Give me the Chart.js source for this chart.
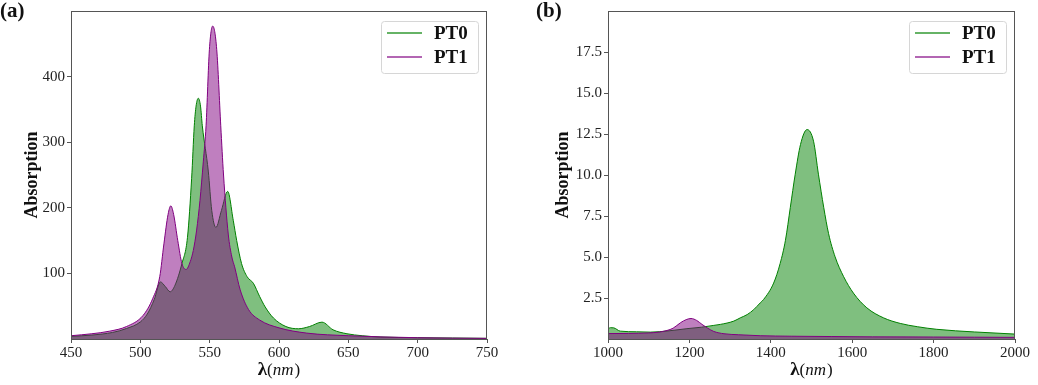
<!doctype html>
<html lang="en">
<head>
<meta charset="utf-8" />
<title>PT0 / PT1 absorption</title>
<script src="https://cdn.jsdelivr.net/npm/chart.js"></script>
<style>
  html, body { margin: 0; padding: 0; background: #fff; }
  body { width: 1038px; height: 385px; position: relative; overflow: hidden; }
  .panel { position: absolute; top: 0; height: 385px; }
  #wrapA { left: 0; width: 520px; }
  #wrapB { left: 520px; width: 518px; }
</style>
</head>
<body>
<div class="panel" id="wrapA"><canvas id="chartA" width="520" height="385"></canvas></div>
<div class="panel" id="wrapB"><canvas id="chartB" width="518" height="385"></canvas></div>
<script>
// panel (a): visible range
const pt0aX = [450, 465, 480, 490, 500, 505, 510, 514.5, 518, 521.5, 525, 530, 534, 537, 538.9, 540.2, 541.8, 543.4, 544.7, 549, 551.5, 554.5, 558.5, 563, 567, 569.5, 573, 577, 581.5, 586, 590, 596, 605, 614, 622, 631, 639, 649, 660, 673, 700, 725, 750];
const pt0aY = [4, 6, 10, 16, 26, 38, 60, 87, 80, 72, 82, 115, 155, 245, 325, 355, 367, 355, 325, 256, 196, 170, 196, 225, 181, 150, 115, 95, 85, 65, 49, 32, 19, 15.6, 19, 25.7, 14, 8, 5, 3, 2, 1.5, 1];
const pt1aX = [450, 465, 478, 490, 502, 509, 514, 517, 520, 522, 524, 527, 530, 533, 536, 538.2, 540.6, 543, 545.4, 547.4, 549.8, 552.2, 555.1, 558, 560, 563.4, 566, 568, 572, 578, 586, 600, 620, 650, 700, 750];
const pt1aY = [5, 8, 12, 19, 36, 62, 95, 145, 190, 203, 190, 150, 115, 106, 118, 135, 166, 211, 270, 325, 441, 477, 441, 325, 250, 160, 125, 110, 75, 45, 29, 17, 9, 5, 2, 1];

// panel (b): near infrared
const pt0bX = [1000, 1006, 1014, 1030, 1070, 1104, 1150, 1194, 1230, 1260, 1276, 1309, 1325, 1342, 1358, 1374, 1382, 1407, 1423, 1436, 1448, 1460, 1473, 1489, 1505, 1517, 1530, 1542, 1558, 1579, 1603, 1636, 1677, 1718, 1760, 1808, 1900, 2000];
const pt0bY = [0.62, 0.69, 0.68, 0.48, 0.44, 0.42, 0.5, 0.63, 0.72, 0.83, 0.89, 1.09, 1.29, 1.49, 1.79, 2.2, 2.4, 3.41, 4.61, 6.02, 8.03, 10.05, 11.86, 12.77, 12.06, 10.05, 8.03, 6.42, 5.01, 3.8, 2.8, 1.9, 1.29, 0.95, 0.75, 0.59, 0.43, 0.3];
const pt1bX = [1000, 1050, 1100, 1125, 1145, 1160, 1178, 1192, 1204, 1218, 1231, 1245, 1260, 1285, 1320, 1374, 1450, 1550, 1650, 1800, 1900, 2000];
const pt1bY = [0.33, 0.34, 0.37, 0.42, 0.52, 0.66, 0.99, 1.18, 1.25, 1.13, 0.89, 0.66, 0.46, 0.32, 0.26, 0.2, 0.17, 0.15, 0.13, 0.12, 0.11, 0.1];

const seriesNames = ["PT0", "PT1"];
const ticksAY = [100, 200, 300, 400];
const ticksBY = [2.5, 5.0, 7.5, 10.0, 12.5, 15.0, 17.5];

const SERIF = '"Liberation Serif", "DejaVu Serif", serif';
const INK = "#222";
const FRAME = "#555";

function pts(xs, ys) {
  return xs.map((x, i) => ({ x, y: ys[i] }));
}

function series(label, xs, ys, line, fill, order) {
  return {
    label,
    data: pts(xs, ys),
    borderColor: line,
    backgroundColor: fill,
    borderWidth: 1,
    pointRadius: 0,
    fill: "origin",
    cubicInterpolationMode: "monotone",
    order,
  };
}

// frame, panel letter, axis titles and an in-axes legend
const decor = {
  id: "decor",
  afterDraw(chart, args, opts) {
    const { ctx, chartArea: a } = chart;
    ctx.save();
    ctx.strokeStyle = FRAME;
    ctx.lineWidth = 1;
    ctx.strokeRect(Math.round(a.left) + 0.5, Math.round(a.top) + 0.5,
      Math.round(a.right - a.left) - 1, Math.round(a.bottom - a.top));

    ctx.fillStyle = "#111";
    ctx.font = "bold 21px " + SERIF;
    ctx.textAlign = "left";
    ctx.textBaseline = "alphabetic";
    ctx.fillText(opts.letter, opts.letterX, 17);

    // y title
    ctx.save();
    ctx.translate(opts.yTitleX, (a.top + a.bottom) / 2);
    ctx.rotate(-Math.PI / 2);
    ctx.textAlign = "center";
    ctx.textBaseline = "middle";
    ctx.font = "bold 18px " + SERIF;
    ctx.fillText("Absorption", 0, 0);
    ctx.restore();

    // x title: bold lambda, italic nm
    const parts = [
      ["λ", "bold 19px " + SERIF],
      ["(", "17px " + SERIF],
      ["nm", "italic 17px " + SERIF],
      [")", "17px " + SERIF],
    ];
    let w = 0;
    parts.forEach(([t, f]) => { ctx.font = f; w += ctx.measureText(t).width + (t === "nm" ? 1 : 0); });
    let x = (a.left + a.right) / 2 - w / 2;
    ctx.textAlign = "left";
    parts.forEach(([t, f]) => {
      ctx.font = f;
      ctx.fillText(t, x, 375);
      x += ctx.measureText(t).width + (t === "nm" ? 1 : 0);
    });

    // legend box
    const bw = 97, bh = 52;
    const bx = a.right - 9 - bw, by = a.top + 10;
    ctx.beginPath();
    ctx.roundRect(bx + 0.5, by + 0.5, bw, bh, 3);
    ctx.fillStyle = "rgba(255,255,255,0.85)";
    ctx.fill();
    ctx.strokeStyle = "#d6d6d6";
    ctx.stroke();
    const legendColors = ["rgba(0,128,0,0.6)", "rgba(128,0,128,0.6)"];
    seriesNames.forEach((name, i) => {
      const cy = by + 12 + i * 24;
      ctx.strokeStyle = legendColors[i];
      ctx.lineWidth = 2;
      ctx.beginPath();
      ctx.moveTo(bx + 6, cy);
      ctx.lineTo(bx + 41, cy);
      ctx.stroke();
      ctx.fillStyle = "#111";
      ctx.font = "bold 19px " + SERIF;
      ctx.textBaseline = "middle";
      ctx.fillText(name, bx + 53, cy + 1);
    });
    ctx.restore();
  },
};

function makeChart(id, cfg) {
  return new Chart(document.getElementById(id), {
    type: "line",
    data: {
      datasets: [
        series(seriesNames[0], cfg.x0, cfg.y0, "#008000", "rgba(0,128,0,0.5)", 2),
        series(seriesNames[1], cfg.x1, cfg.y1, "#800080", "rgba(128,0,128,0.5)", 1),
      ],
    },
    options: {
      responsive: false,
      devicePixelRatio: 1,
      animation: false,
      layout: { padding: { left: 0, right: cfg.padRight, top: 9, bottom: 0 } },
      plugins: {
        legend: { display: false },
        tooltip: { enabled: false },
        decor: { letter: cfg.letter, letterX: cfg.letterX, yTitleX: cfg.yTitleX },
      },
      scales: {
        x: {
          type: "linear",
          min: cfg.xMin,
          max: cfg.xMax,
          border: { display: false },
          grid: { display: true, drawOnChartArea: false, drawTicks: true, tickLength: 4, color: FRAME },
          ticks: {
            stepSize: cfg.xStep,
            padding: 1,
            color: INK,
            font: { family: SERIF, size: 15 },
            callback: (v) => String(v),
          },
          afterFit: (s) => { s.height = 46; },
        },
        y: {
          min: 0,
          max: cfg.yMax,
          border: { display: false },
          grid: { display: true, drawOnChartArea: false, drawTicks: true, tickLength: 4, color: FRAME },
          ticks: {
            padding: 2,
            color: INK,
            font: { family: SERIF, size: 15 },
            callback: (v) => cfg.fmt(v),
          },
          afterBuildTicks: (s) => { s.ticks = cfg.yTicks.map((v) => ({ value: v })); },
          afterFit: (s) => { s.width = cfg.yWidth; },
        },
      },
    },
    plugins: [decor],
  });
}

makeChart("chartA", {
  x0: pt0aX, y0: pt0aY, x1: pt1aX, y1: pt1aY,
  xMin: 450, xMax: 750, xStep: 50, yMax: 500, yTicks: ticksAY,
  fmt: (v) => String(v), yWidth: 71, padRight: 33,
  letter: "(a)", letterX: 0, yTitleX: 32,
});

makeChart("chartB", {
  x0: pt0bX, y0: pt0bY, x1: pt1bX, y1: pt1bY,
  xMin: 1000, xMax: 2000, xStep: 200, yMax: 20, yTicks: ticksBY,
  fmt: (v) => v.toFixed(1), yWidth: 88, padRight: 23,
  letter: "(b)", letterX: 16, yTitleX: 43,
});
</script>
</body>
</html>
